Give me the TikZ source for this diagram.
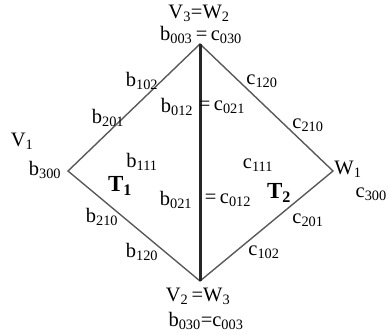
\documentclass[tikz,border=0pt]{standalone}
\usepackage{fontspec}
\setmainfont{Liberation Serif}
\usepackage{tikz}
\usetikzlibrary{positioning}
\tikzset{
  lbl/.style={inner sep=0pt, font=\fontsize{20.5}{24}\selectfont, text=black},
  tri/.style={inner sep=0pt, font=\fontsize{23}{27}\selectfont\bfseries},
  edge/.style={draw=black!65, line width=1.4pt},
  seam/.style={draw=black!85, line width=3pt},
}
\newcommand{\ix}[1]{\textsubscript{#1}}

\begin{document}
\begin{tikzpicture}[x=1pt,y=-1pt]
  \useasboundingbox (0,0) rectangle (388,336);

  % vertices
  \coordinate (top) at (200,44);
  \coordinate (bot) at (200,281);
  \coordinate (lft) at (68,171);
  \coordinate (rgt) at (333,171);

  % edges
  \draw[edge] (lft) -- (top) -- (rgt) -- (bot) -- cycle;
  \draw[seam] (top) -- (bot);

  % top vertex
  \node[lbl] (vtop) at (199,13) {V\ix{3}=W\ix{2}};
  \node[lbl] (btop) at (201,35) {b\ix{003}\,=\,c\ix{030}};

  % left triangle
  \node[lbl] (b102) at (142,81) {b\ix{102}};
  \node[lbl] (b201) at (108,118) {b\ix{201}};
  \node[lbl] (v1) at (22,141) {V\ix{1}};
  \node[lbl] (b300) at (45,170) {b\ix{300}};
  \node[lbl] (b111) at (142,162) {b\ix{111}};
  \node[tri] (t1) at (120,186) {T\ix{1}};
  \node[lbl] (b210) at (102,217) {b\ix{210}};
  \node[lbl] (b120) at (142,252) {b\ix{120}};
  \node[lbl] (b012) at (177,107) {b\ix{012}};
  \node[lbl] (b021) at (176,200) {b\ix{021}};

  % right triangle
  \node[lbl] (c021) at (222,107) {=\,c\ix{021}};
  \node[lbl] (c012) at (228,200) {=\,c\ix{012}};
  \node[lbl] (c120) at (262,81) {c\ix{120}};
  \node[lbl] (c210) at (308,125) {c\ix{210}};
  \node[lbl] (c111) at (258,165) {c\ix{111}};
  \node[lbl] (w1) at (348,169) {W\ix{1}};
  \node[tri] (t2) at (279,193) {T\ix{2}};
  \node[lbl, anchor=east] (c300) at (387,194) {c\ix{300}};
  \node[lbl] (c201) at (308,220) {c\ix{201}};
  \node[lbl] (c102) at (264,252) {c\ix{102}};

  % bottom vertex
  \node[lbl] (vbot) at (198,296) {V\ix{2}\,=W\ix{3}};
  \node[lbl] (bbot) at (206,321) {b\ix{030}=c\ix{003}};
\end{tikzpicture}
\end{document}
